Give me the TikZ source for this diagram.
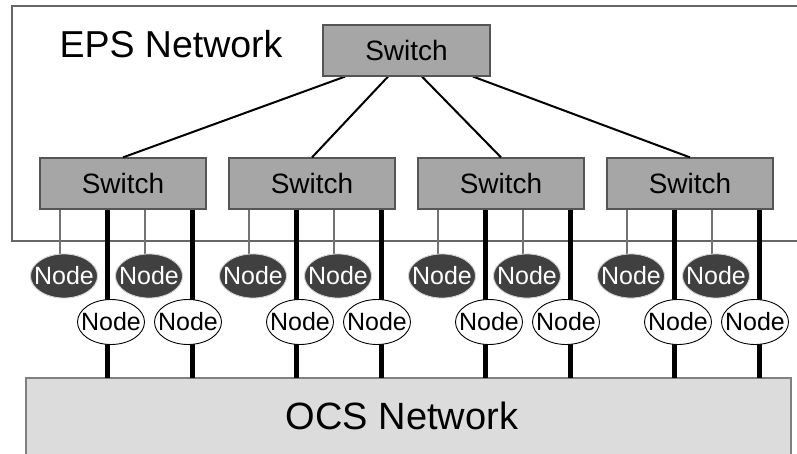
\documentclass[tikz,border=0pt]{standalone}
\usepackage{fontspec}
\setmainfont{Liberation Sans}
\usetikzlibrary{calc,shapes.geometric}
\definecolor{swfill}{HTML}{A6A6A6}
\definecolor{swline}{HTML}{555555}
\definecolor{ocsfill}{HTML}{DCDCDC}
\definecolor{darknode}{HTML}{404040}
\definecolor{frameline}{HTML}{666666}
\newcommand{\hostname}{\makebox[0pt]{Node}}
\tikzset{
  switchbox/.style={draw=swline, line width=1.2pt, fill=swfill, minimum width=166pt,
    minimum height=51pt, inner sep=0pt, font=\fontsize{28}{32}\selectfont},
  darkhost/.style={ellipse, fill=darknode, draw=white!85!black, line width=0.8pt,
    minimum width=67pt, minimum height=44pt, inner sep=0pt, text=white,
    font=\fontsize{25}{28}\selectfont},
  whitehost/.style={ellipse, fill=white, draw=black, line width=0.9pt,
    minimum width=67pt, minimum height=45pt, inner sep=0pt, text=black,
    font=\fontsize{25}{28}\selectfont},
  uplink/.style={line width=2pt, black},
  epslink/.style={line width=1.3pt, draw=black!55},
  ocslink/.style={line width=5pt, black},
  netframe/.style={line width=1.3pt, draw=frameline}
}
\begin{document}
\begin{tikzpicture}[x=1pt, y=-1pt]
\useasboundingbox (0,0) rectangle (797,454);
\fill[white] (0,0) rectangle (797,454);

% EPS network frame (open on the right)
\draw[netframe] (797,6) -- (12,6) -- (12,241) -- (797,241);
\node[anchor=west, font=\fontsize{37.5}{40}\selectfont] (epslabel) at (56,44) {EPS Network};

% OCS network block (runs past the lower edge)
\fill[ocsfill] (26,378) rectangle (791,460);
\draw[netframe, draw=black!50] (26,460) -- (26,378) -- (791,378) -- (791,460);
\coordinate (ocstop) at (408,378);
\node[font=\fontsize{38}{42}\selectfont] (ocslabel) at (402,416) {OCS Network};

% core switch
\node[switchbox, minimum width=167pt] (core) at (406.5,50.5) {Switch};

% edge switches, hosts and links
\foreach \i/\L in {1/40, 2/229, 3/418, 4/607} {
  \node[switchbox] (sw\i) at (\L+83,183.5) {Switch};
  % electrical links to the dark hosts
  \coordinate (ta\i) at (\L+20,209);
  \coordinate (tb\i) at (\L+105,209);
  \node[darkhost] (da\i) at (\L+24,276) {\hostname};
  \node[darkhost] (db\i) at (\L+109,276) {\hostname};
  % optical links through the white hosts
  \coordinate (oa\i) at (\L+67,209);
  \coordinate (ob\i) at (\L+152,209);
}

% links below the hosts
\foreach \i in {1,2,3,4} {
  \draw[epslink] (ta\i) -- (ta\i |- da\i.north);
  \draw[epslink] (tb\i) -- (tb\i |- db\i.north);
  \draw[ocslink] (oa\i) -- (oa\i |- ocstop);
  \draw[ocslink] (ob\i) -- (ob\i |- ocstop);
}

% redraw the dark hosts and the switches on top of the links
\foreach \i/\L in {1/40, 2/229, 3/418, 4/607} {
  \node[darkhost] at (da\i) {\hostname};
  \node[darkhost] at (db\i) {\hostname};
  \node[whitehost] (wa\i) at (\L+71,322) {\hostname};
  \node[whitehost] (wb\i) at (\L+148,322) {\hostname};
  \node[switchbox] at (sw\i) {Switch};
}

% core to edge switch uplinks
\draw[uplink] ($(core.south)+(-61.5,0)$) -- (sw1.north);
\draw[uplink] ($(core.south)+(-18.5,0)$) -- (sw2.north);
\draw[uplink] ($(core.south)+(15.5,0)$) -- (sw3.north);
\draw[uplink] ($(core.south)+(66.5,0)$) -- (sw4.north);
\node[switchbox, minimum width=167pt] at (core) {Switch};
\end{tikzpicture}
\end{document}
